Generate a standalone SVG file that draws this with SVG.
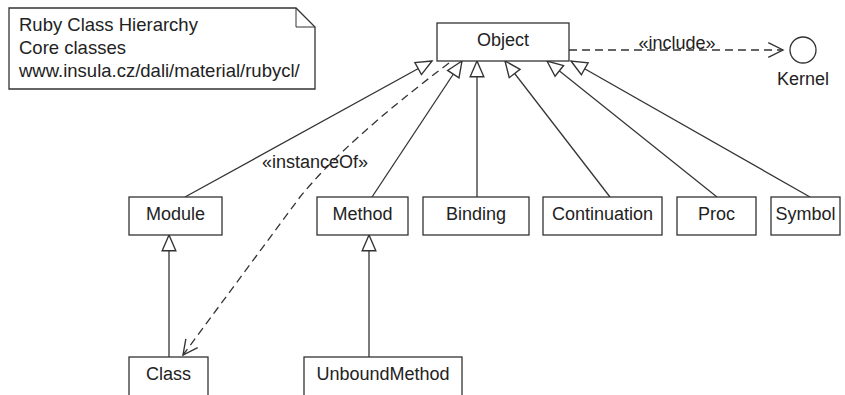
<svg xmlns="http://www.w3.org/2000/svg" width="845" height="395" viewBox="0 0 845 395">
<style>
  .box { fill: #ffffff; stroke: #333333; stroke-width: 1.3; }
  .lbl { font-family: "Liberation Sans", Arial, sans-serif; font-size: 18px; fill: #222222; }
  .note { font-size: 18.5px; }
  .c { text-anchor: middle; }
  .gen { fill: none; stroke: #333333; stroke-width: 1.3; marker-end: url(#tri); }
  .dep { fill: none; stroke: #333333; stroke-width: 1.3; stroke-dasharray: 8 5; marker-end: url(#open); }
</style>
<defs>
  <marker id="tri" markerUnits="userSpaceOnUse" markerWidth="20" markerHeight="20" viewBox="-17 -8 19 16" refX="0" refY="0" orient="auto">
    <path d="M0,0 L-15,-6.5 L-15,6.5 Z" fill="#ffffff" stroke="#333333" stroke-width="1.3"/>
  </marker>
  <marker id="open" markerUnits="userSpaceOnUse" markerWidth="20" markerHeight="20" viewBox="-17 -9 19 18" refX="0" refY="0" orient="auto">
    <path d="M-14,-7 L0,0 L-14,7" fill="none" stroke="#333333" stroke-width="1.3"/>
  </marker>
</defs>
<rect width="845" height="395" fill="#ffffff"/>

<g id="note">
  <path class="box" d="M9,8 L296,8 L315,27 L315,89 L9,89 Z"/>
  <path d="M296,8 L296,27 L315,27" fill="none" stroke="#333333" stroke-width="1"/>
  <text class="lbl note" x="19" y="31">Ruby Class Hierarchy</text>
  <text class="lbl note" x="19" y="54">Core classes</text>
  <text class="lbl note" x="19" y="77">www.insula.cz/dali/material/rubycl/</text>
</g>

<g id="connectors">
  <path class="gen" d="M185,197 L432,61"/>
  <path class="gen" d="M372,197 L462,61"/>
  <path class="gen" d="M477,197 L477,61"/>
  <path class="gen" d="M610,197 L505,61"/>
  <path class="gen" d="M717,197 L547,61"/>
  <path class="gen" d="M810,197 L571,61"/>
  <path class="gen" d="M169,357 L169,235"/>
  <path class="gen" d="M369,357 L369,235"/>
  <path class="dep" d="M449,63 C380,115 330,160 300,197 L183,355"/>
  <text class="lbl c" x="315" y="168">«instanceOf»</text>
  <path class="dep" d="M569,50 L783,50"/>
  <text class="lbl c" x="677" y="49">«include»</text>
</g>

<g id="Object">
  <rect class="box" x="437" y="23" width="132" height="38"/>
  <text class="lbl c" x="503" y="46">Object</text>
</g>
<g id="Kernel">
  <circle cx="803" cy="50" r="13" fill="#ffffff" stroke="#333333" stroke-width="1.3"/>
  <text class="lbl c" x="803" y="85">Kernel</text>
</g>
<g id="Module">
  <rect class="box" x="129" y="197" width="93" height="38"/>
  <text class="lbl c" x="175.5" y="220">Module</text>
</g>
<g id="Method">
  <rect class="box" x="317" y="197" width="91" height="38"/>
  <text class="lbl c" x="362.5" y="220">Method</text>
</g>
<g id="Binding">
  <rect class="box" x="423" y="197" width="106" height="38"/>
  <text class="lbl c" x="476" y="220">Binding</text>
</g>
<g id="Continuation">
  <rect class="box" x="543" y="197" width="119" height="38"/>
  <text class="lbl c" x="602.5" y="220">Continuation</text>
</g>
<g id="Proc">
  <rect class="box" x="677" y="197" width="79" height="38"/>
  <text class="lbl c" x="716.5" y="220">Proc</text>
</g>
<g id="Symbol">
  <rect class="box" x="771" y="197" width="69" height="38"/>
  <text class="lbl c" x="805.5" y="220">Symbol</text>
</g>
<g id="Class">
  <rect class="box" x="129" y="357" width="79" height="45"/>
  <text class="lbl c" x="168.5" y="380">Class</text>
</g>
<g id="UnboundMethod">
  <rect class="box" x="304" y="357" width="158" height="45"/>
  <text class="lbl c" x="383" y="380">UnboundMethod</text>
</g>
</svg>
